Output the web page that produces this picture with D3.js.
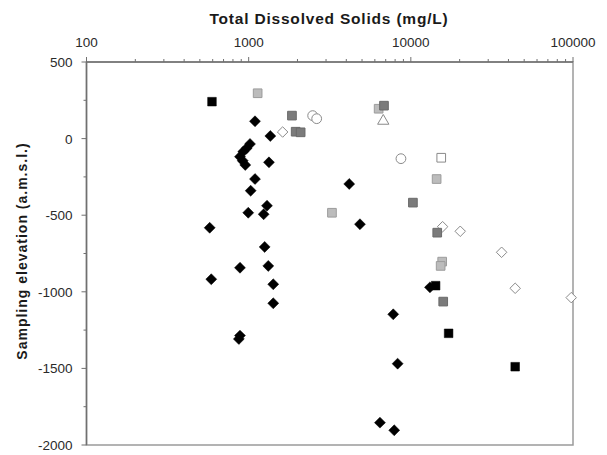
<!DOCTYPE html>
<html><head><meta charset="utf-8">
<script src="https://cdn.jsdelivr.net/npm/d3@7/dist/d3.min.js"></script>
<style>body{margin:0;background:#fff}svg{display:block}</style>
</head><body><svg id="c" width="607" height="455"></svg>
<script>
// [TDS mg/L, elevation m]
const blackSquares = [[594,241],[14220,-960],[17100,-1271],[44000,-1489]];
const blackDiamonds = [[1094,113],[1360,17],[1019,-35],[972,-63],[926,-85],[884,-118],[918,-144],[953,-172],
  [1334,-155],[1094,-264],[1029,-340],[1297,-438],[994,-484],[1237,-494],[575,-582],[1255,-707],
  [884,-843],[1321,-831],[588,-918],[1418,-951],[1418,-1075],[884,-1286],[870,-1308],
  [4170,-296],[4856,-559],[13120,-971],[7790,-1147],[8290,-1469],[6450,-1854],[7900,-1904]];
const lightSquares = [[1136,296],[6330,195],[14420,-264],[3263,-484],[15610,-803],[15270,-831]];
const darkSquares = [[1849,150],[1949,45],[2092,41],[6830,215],[10300,-418],[14550,-614],[15840,-1064]];
const whiteSquares = [[15400,-125]];
const whiteCircles = [[2481,150],[2627,130],[8690,-131]];
const whiteTriangles = [[6760,115]];
const whiteDiamonds = [[1620,43],[15700,-575],[20170,-605],[36290,-742],[44000,-977],[97500,-1038]];
const xTicks = [100,1000,10000,100000];
const yTicks = [500,0,-500,-1000,-1500,-2000];
const xTitle = "Total Dissolved Solids (mg/L)";
const yTitle = "Sampling elevation (a.m.s.l.)";

const svg = d3.select("#c");
const L=86.5, R=573, T=62, B=445;
const x = d3.scaleLog().domain([100,100000]).range([L,R]);
const y = d3.scaleLinear().domain([-2000,500]).range([B,T]);
const font = "'Liberation Sans', Arial, sans-serif";
const axisCol = "#707070";

// frame
svg.append("rect").attr("x",L).attr("y",T).attr("width",R-L).attr("height",B-T)
  .attr("fill","none").attr("stroke","#9a9a9a").attr("stroke-width",1.5);

// top axis
const minor = [];
for (let d=100; d<100000; d*=10) for (let k=2;k<=9;k++) minor.push(d*k);
const gx = svg.append("g");
gx.append("line").attr("x1",L).attr("x2",R).attr("y1",T).attr("y2",T).attr("stroke",axisCol).attr("stroke-width",1.5);
gx.selectAll(".mn").data(minor).join("line").attr("x1",d=>x(d)).attr("x2",d=>x(d))
  .attr("y1",T).attr("y2",T-3).attr("stroke",axisCol);
gx.selectAll(".mj").data(xTicks).join("line").attr("x1",d=>x(d)).attr("x2",d=>x(d))
  .attr("y1",T).attr("y2",T-5).attr("stroke",axisCol);
gx.selectAll("text").data(xTicks).join("text").attr("x",d=>x(d)).attr("y",T-15)
  .attr("text-anchor","middle").attr("font-family",font).attr("font-size",13.5).attr("fill","#2a2a2a")
  .text(d=>d3.format("d")(d));

// left axis
const gy = svg.append("g");
gy.append("line").attr("x1",L).attr("x2",L).attr("y1",T).attr("y2",B).attr("stroke",axisCol).attr("stroke-width",1.5);
const yMinor = [250,-250,-750,-1250,-1750];
gy.selectAll(".mn").data(yMinor).join("line").attr("x1",L-3).attr("x2",L)
  .attr("y1",d=>y(d)).attr("y2",d=>y(d)).attr("stroke",axisCol);
gy.selectAll(".mj").data(yTicks).join("line").attr("x1",L-5).attr("x2",L)
  .attr("y1",d=>y(d)).attr("y2",d=>y(d)).attr("stroke",axisCol);
gy.selectAll("text").data(yTicks).join("text").attr("x",L-14).attr("y",d=>y(d)+5)
  .attr("text-anchor","end").attr("font-family",font).attr("font-size",13.5).attr("fill","#2a2a2a")
  .text(d=>d);

// titles
svg.append("text").attr("x",329).attr("y",24).attr("text-anchor","middle")
  .attr("font-family",font).attr("font-weight","bold").attr("font-size",15.5).attr("fill","#1a1a1a")
  .attr("letter-spacing","0.8").text(xTitle);
svg.append("text").attr("transform",`translate(27,251) rotate(-90)`).attr("text-anchor","middle")
  .attr("font-family",font).attr("font-weight","bold").attr("font-size",14).attr("fill","#1a1a1a")
  .attr("letter-spacing","1").text(yTitle);

// markers
function draw(data, shape, size, fill, stroke, sw){
  svg.append("g").selectAll("path").data(data).join("path")
    .attr("transform",d=>`translate(${x(d[0])},${y(d[1])})`)
    .attr("d",d3.symbol().type(shape).size(size))
    .attr("fill",fill).attr("stroke",stroke).attr("stroke-width",sw);
}
// rotated-square diamond
const sqDiamond = {draw(ctx,size){const r=Math.sqrt(size/2);ctx.moveTo(0,-r);ctx.lineTo(r,0);ctx.lineTo(0,r);ctx.lineTo(-r,0);ctx.closePath();}};
draw(whiteDiamonds, sqDiamond, 55, "#fff", "#8a8a8a", 1);
draw(whiteCircles, d3.symbolCircle, 75, "#fff", "#8a8a8a", 1);
draw(whiteTriangles, d3.symbolTriangle, 55, "#fff", "#8a8a8a", 1);
draw(whiteSquares, d3.symbolSquare, 75, "#fff", "#8a8a8a", 1);
draw(lightSquares, d3.symbolSquare, 75, "#bcbcbc", "#9c9c9c", 1);
draw(darkSquares, d3.symbolSquare, 75, "#7b7b7b", "#6a6a6a", 1);
draw(blackDiamonds, sqDiamond, 60, "#000", "#000", 0.5);
draw(blackSquares, d3.symbolSquare, 75, "#000", "#000", 0.5);
</script></body></html>
